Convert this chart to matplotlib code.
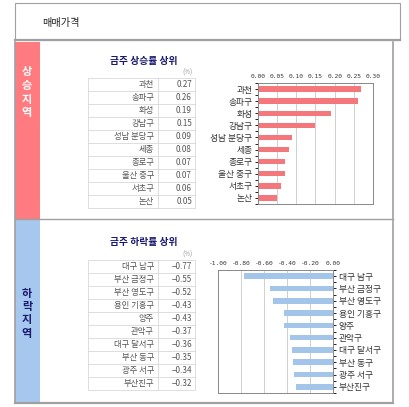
import matplotlib
matplotlib.use("Agg")
import matplotlib.pyplot as plt
from matplotlib.patches import Rectangle

plt.rcParams["font.family"] = ["Noto Sans CJK KR", "DejaVu Sans"]

up_names = ["과천", "송파구", "화성", "강남구", "성남 분당구", "세종", "종로구", "울산 중구", "서초구", "논산"]
up_vals = [0.27, 0.26, 0.19, 0.15, 0.09, 0.08, 0.07, 0.07, 0.06, 0.05]
up_ticks = [0.00, 0.05, 0.10, 0.15, 0.20, 0.25, 0.30]

down_names = ["대구 남구", "부산 금정구", "부산 영도구", "용인 기흥구", "양주", "관악구",
              "대구 달서구", "부산 동구", "광주 서구", "부산진구"]
down_vals = [-0.77, -0.55, -0.52, -0.43, -0.43, -0.37, -0.36, -0.35, -0.34, -0.32]
down_ticks = [-1.00, -0.80, -0.60, -0.40, -0.20, 0.00]

W, H = 410, 407
RED = "#ff7b7f"
BLUE = "#a7c8ee"
NAVY = "#1a1a6e"
GRID = "#c8c8c8"

fig = plt.figure(figsize=(W / 100, H / 100), dpi=100)
bg = fig.add_axes([0, 0, 1, 1])
bg.set_xlim(0, W)
bg.set_ylim(H, 0)
bg.axis("off")


def fax(x0, y0, x1, y1):
    # pixel box -> figure fraction
    return [x0 / W, 1 - y1 / H, (x1 - x0) / W, (y1 - y0) / H]


# header
bg.add_patch(Rectangle((15, 3), 385, 37, fill=False, ec="#a0a0a0", lw=0.8))
bg.plot([15, 400], [40, 40], color="#a0a0a0", lw=1.6)
bg.text(42, 23, "매매가격", fontsize=7.3, va="center", ha="left", color="#222222")

# section frames
bg.add_patch(Rectangle((15, 42), 25, 177, fc=RED, ec="none"))
bg.add_patch(Rectangle((15, 219), 25, 184, fc=BLUE, ec="none"))
bg.plot([15, 15], [42, 403], color="#a0a0a0", lw=1.2)
bg.plot([393, 393], [42, 403], color="#a0a0a0", lw=1.2)
bg.plot([15, 393], [219, 219], color="#a0a0a0", lw=1.0)
bg.plot([15, 393], [403, 403], color="#a0a0a0", lw=1.6)

for i, ch in enumerate("상승지역"):
    bg.text(27, 72 + i * 13.5, ch, fontsize=8, ha="center", va="center",
            color="white", fontweight="bold")
for i, ch in enumerate("하락지역"):
    bg.text(27, 293 + i * 13.5, ch, fontsize=8, ha="center", va="center",
            color=NAVY, fontweight="bold")


def draw_table(top, names, vals, title, title_y):
    bg.text(144, title_y, title, fontsize=7, ha="center", va="center",
            color=NAVY, fontweight="bold")
    bg.text(193, top - 5, "(%)", fontsize=4.5, ha="right", va="center", color="#999999")
    rh = 13
    x0, xm, x1 = 88, 158, 195
    bg.add_patch(Rectangle((x0, top), x1 - x0, rh * len(names), fill=False,
                           ec="#d8d8d8", lw=0.6))
    bg.plot([xm, xm], [top, top + rh * len(names)], color="#d8d8d8", lw=0.6)
    for i, (n, v) in enumerate(zip(names, vals)):
        y = top + rh * i
        if i:
            bg.plot([x0, x1], [y, y], color="#d8d8d8", lw=0.6)
        bg.text(xm - 4, y + rh / 2, n, fontsize=6, ha="right", va="center", color="#555555")
        bg.text(x1 - 3, y + rh / 2, f"{v:.2f}".replace("-", "\u2212"), fontsize=5.8,
                ha="right", va="center", color="#555555")


draw_table(78, up_names, up_vals, "금주 상승률 상위", 61)
draw_table(260, down_names, down_vals, "금주 하락률 상위", 242)


def bar_chart(box, names, vals, ticks, color, right):
    ax = fig.add_axes(fax(*box))
    y = list(range(len(names)))
    ax.barh(y, vals, height=0.45, color=color, zorder=2)
    ax.set_ylim(len(names) - 0.5, -0.5)
    ax.set_xlim(ticks[0], ticks[-1])
    ax.set_xticks(ticks)
    ax.set_xticklabels([f"{t:.2f}" for t in ticks], family="DejaVu Sans Mono",
                       fontsize=4.5, color="#333333")
    ax.xaxis.tick_top()
    ax.tick_params(axis="x", length=0, pad=3)
    ax.set_yticks(y)
    ax.set_yticklabels(names, fontsize=6.3, color="#333333")
    if right:
        ax.yaxis.tick_right()
    ax.tick_params(axis="y", length=2, width=0.6, pad=2)
    ax.set_yticks([i + 0.5 for i in range(-1, len(names))], minor=True)
    ax.tick_params(axis="y", which="minor", length=2, width=0.6)
    ax.grid(axis="x", color=GRID, lw=0.6, zorder=0)
    for s in ax.spines.values():
        s.set_color("#888888")
        s.set_linewidth(0.7)
    return ax


bar_chart((258, 83, 373, 204), up_names, up_vals, up_ticks, "#f4777c", False)
bar_chart((218, 270, 333, 393), down_names, down_vals, down_ticks, "#a3c5ea", True)

fig.savefig("out.png", dpi=100)
